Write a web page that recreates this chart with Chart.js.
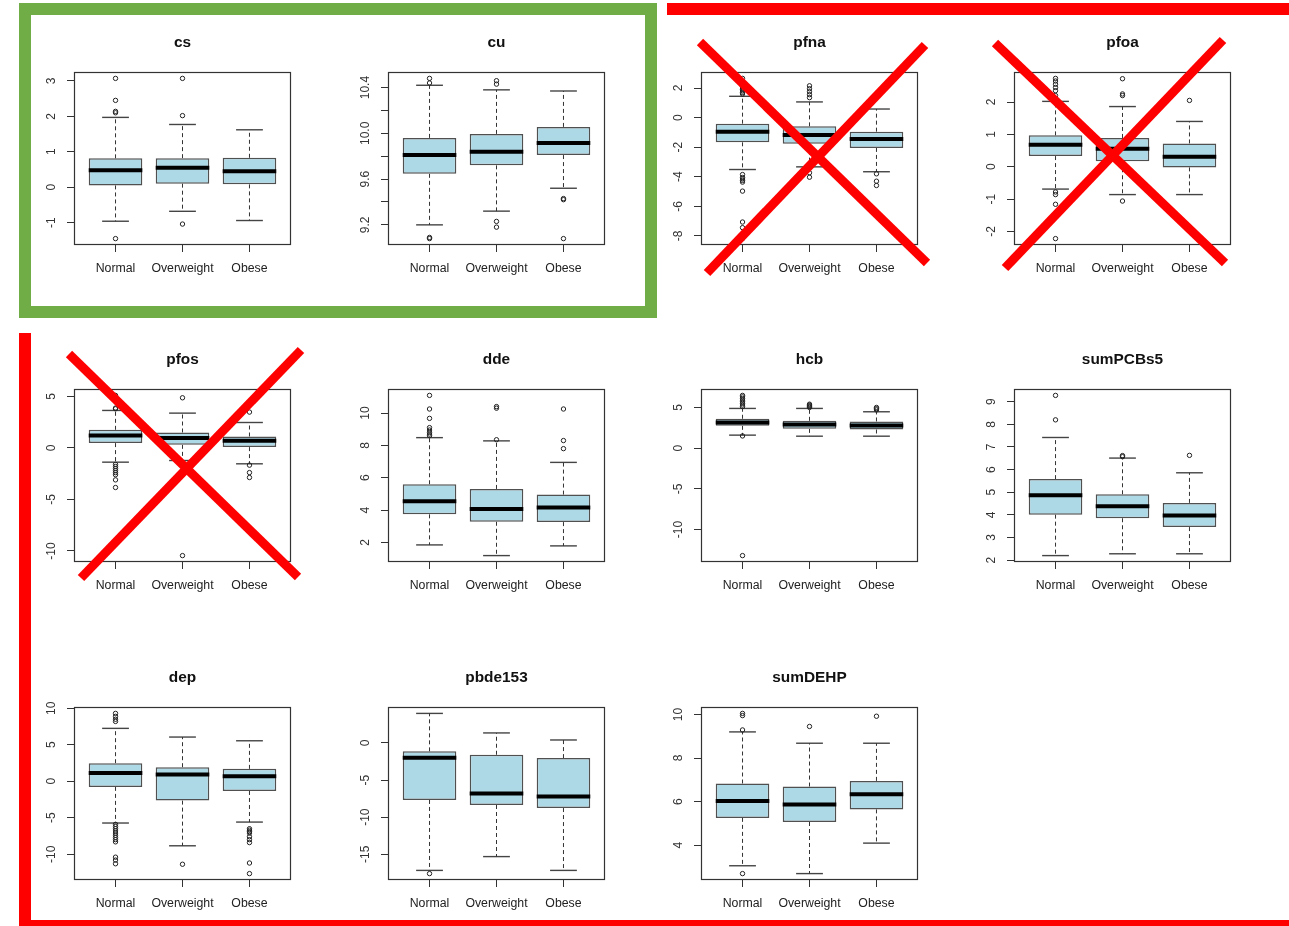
<!DOCTYPE html>
<html lang="en">
<head>
<meta charset="UTF-8">
<title>Exposure levels by BMI group</title>
<script src="https://cdn.jsdelivr.net/npm/chart.js@4.4.1/dist/chart.umd.min.js"></script>
<style>
    html, body { margin: 0; padding: 0; background: #fff; }
    #page { position: relative; width: 1289px; height: 926px; overflow: hidden; background: #fff; }
    .panel { position: absolute; }
    .bar { position: absolute; background: #ff0000; pointer-events: none; z-index: 10; }
    .greenFrame { position: absolute; box-sizing: border-box; border: 12px solid #70ad47; pointer-events: none; z-index: 10; }
    svg.cross { position: absolute; left: 0; top: 0; pointer-events: none; z-index: 11; }
</style>
</head>
<body>
<div id="page">
    <div class="greenFrame" style="left:19px; top:3px; width:638px; height:315px;"></div>
    <div class="bar" style="left:667px; top:3px; width:622px; height:12px;"></div>
    <div class="bar" style="left:19px; top:333px; width:12px; height:593px;"></div>
    <div class="bar" style="left:19px; top:920px; width:1270px; height:12px;"></div>
    <svg class="cross" width="1289" height="926">
        <g stroke="#ff0000" stroke-width="9" stroke-linecap="butt">
            <line x1="700" y1="42" x2="927" y2="263"/>
            <line x1="925" y1="45" x2="707" y2="273"/>
            <line x1="995" y1="43" x2="1225" y2="263"/>
            <line x1="1223" y1="40" x2="1005" y2="268"/>
            <line x1="69" y1="354" x2="298" y2="577"/>
            <line x1="301" y1="350" x2="81" y2="578"/>
        </g>
    </svg>
</div>

<script>
    const groups = ['Normal', 'Overweight', 'Obese'];

    // each box: [lower whisker, Q1, median, Q3, upper whisker]
    const csStats = [[-0.96, 0.05, 0.48, 0.815, 1.97], [-0.68, 0.10, 0.55, 0.82, 1.77], [-0.94, 0.08, 0.45, 0.83, 1.62]];
    const csOutliers = [[3.07, 2.45, 2.14, 2.10, -1.45], [3.07, 2.02, -1.04], []];
    const csTicks = [-1, 0, 1, 2, 3];
    const csTickLabels = ['-1', '0', '1', '2', '3'];

    const cuStats = [[9.20, 9.646, 9.81, 9.96, 10.42], [9.32, 9.72, 9.84, 9.995, 10.38], [9.52, 9.81, 9.915, 10.056, 10.37]];
    const cuOutliers = [[10.48, 10.44, 9.09, 9.08], [10.46, 10.43, 9.23, 9.18], [9.43, 9.42, 9.08]];
    const cuTicks = [9.2, 9.4, 9.6, 9.8, 10.0, 10.2, 10.4];
    const cuTickLabels = ['9.2', '', '9.6', '', '10.0', '', '10.4'];

    const pfnaStats = [[-3.51, -1.67, -0.95, -0.41, 1.44], [-3.33, -1.76, -1.17, -0.59, 1.06], [-3.66, -2.05, -1.44, -0.95, 0.58]];
    const pfnaOutliers = [
        [2.65, 2.45, 2.3, 2.1, 2.0, 1.9, 1.8, 1.7, 1.6, -3.85, -4.05, -4.15, -4.25, -4.36, -4.97, -7.06, -7.44, -8.18],
        [2.15, 1.95, 1.75, 1.55, 1.35, -3.73, -4.03],
        [-3.8, -4.3, -4.59]
    ];
    const pfnaTicks = [-8, -6, -4, -2, 0, 2];
    const pfnaTickLabels = ['-8', '-6', '-4', '-2', '0', '2'];

    const pfoaStats = [[-0.69, 0.33, 0.68, 0.97, 2.02], [-0.86, 0.17, 0.56, 0.89, 1.86], [-0.86, -0.02, 0.31, 0.72, 1.40]];
    const pfoaOutliers = [[2.73, 2.65, 2.55, 2.45, 2.35, 2.2, -0.78, -0.86, -1.16, -2.22], [2.72, 2.25, 2.2, -1.06], [2.05]];
    const pfoaTicks = [-2, -1, 0, 1, 2];
    const pfoaTickLabels = ['-2', '-1', '0', '1', '2'];

    const pfosStats = [[-1.38, 0.47, 1.21, 1.76, 3.64], [-1.22, 0.30, 0.96, 1.50, 3.38], [-1.54, 0.08, 0.69, 1.11, 2.47]];
    const pfosOutliers = [[5.1, 3.87, 3.8, -1.6, -1.8, -2.0, -2.2, -2.4, -2.6, -3.1, -3.84], [4.87, -10.45], [3.48, -1.67, -2.39, -2.87]];
    const pfosTicks = [-10, -5, 0, 5];
    const pfosTickLabels = ['-10', '-5', '0', '5'];

    const ddeStats = [[1.85, 3.74, 4.55, 5.60, 8.48], [1.19, 3.28, 4.07, 5.31, 8.28], [1.79, 3.26, 4.17, 4.96, 6.95]];
    const ddeOutliers = [[11.09, 10.25, 9.67, 9.1, 8.95, 8.8, 8.7, 8.6], [10.4, 10.3, 8.35], [10.25, 8.3, 7.8]];
    const ddeTicks = [2, 4, 6, 8, 10];
    const ddeTickLabels = ['2', '4', '6', '8', '10'];

    const hcbStats = [[1.60, 2.74, 3.15, 3.61, 4.88], [1.47, 2.37, 2.90, 3.36, 4.88], [1.47, 2.29, 2.78, 3.28, 4.47]];
    const hcbOutliers = [[6.48, 6.3, 6.1, 5.9, 5.7, 5.5, 5.3, 5.1, 1.5, -13.2], [5.4, 5.3, 5.2, 5.1, 5.0], [5.0, 4.85, 4.7]];
    const hcbTicks = [-10, -5, 0, 5];
    const hcbTickLabels = ['-10', '-5', '0', '5'];

    const pcbStats = [[2.20, 4.01, 4.87, 5.58, 7.42], [2.28, 3.85, 4.38, 4.91, 6.51], [2.28, 3.46, 3.97, 4.53, 5.86]];
    const pcbOutliers = [[9.28, 8.2], [6.62, 6.57], [6.63]];
    const pcbTicks = [2, 3, 4, 5, 6, 7, 8, 9];
    const pcbTickLabels = ['2', '3', '4', '5', '6', '7', '8', '9'];

    const depStats = [[-5.72, -0.77, 1.15, 2.48, 7.25], [-8.84, -2.65, 0.92, 1.93, 6.06], [-5.59, -1.33, 0.69, 1.70, 5.55]];
    const depOutliers = [
        [9.3, 8.9, 8.5, 8.2, -5.9, -6.2, -6.5, -6.8, -7.1, -7.4, -7.7, -8.0, -8.3, -10.4, -10.8, -11.3],
        [-11.37],
        [-6.5, -6.7, -6.9, -7.1, -7.6, -8.0, -8.4, -11.2, -12.65]
    ];
    const depTicks = [-10, -5, 0, 5, 10];
    const depTickLabels = ['-10', '-5', '0', '5', '10'];

    const pbdeStats = [[-17.17, -7.68, -1.99, -1.13, 3.98], [-15.31, -8.36, -6.82, -1.59, 1.35], [-17.17, -8.77, -7.23, -2.04, 0.40]];
    const pbdeOutliers = [[-17.6], [], []];
    const pbdeTicks = [-15, -10, -5, 0];
    const pbdeTickLabels = ['-15', '-10', '-5', '0'];

    const dehpStats = [[3.05, 5.25, 6.03, 6.83, 9.20], [2.69, 5.06, 5.87, 6.69, 8.68], [4.09, 5.64, 6.34, 6.95, 8.68]];
    const dehpOutliers = [[10.05, 9.95, 9.29, 2.69], [9.45], [9.92]];
    const dehpTicks = [4, 6, 8, 10];
    const dehpTickLabels = ['4', '6', '8', '10'];

    const panels = [
        { title: 'cs', stats: csStats, outliers: csOutliers, ticks: csTicks, labels: csTickLabels, row: 0, col: 0 },
        { title: 'cu', stats: cuStats, outliers: cuOutliers, ticks: cuTicks, labels: cuTickLabels, row: 0, col: 1 },
        { title: 'pfna', stats: pfnaStats, outliers: pfnaOutliers, ticks: pfnaTicks, labels: pfnaTickLabels, row: 0, col: 2 },
        { title: 'pfoa', stats: pfoaStats, outliers: pfoaOutliers, ticks: pfoaTicks, labels: pfoaTickLabels, row: 0, col: 3 },
        { title: 'pfos', stats: pfosStats, outliers: pfosOutliers, ticks: pfosTicks, labels: pfosTickLabels, row: 1, col: 0 },
        { title: 'dde', stats: ddeStats, outliers: ddeOutliers, ticks: ddeTicks, labels: ddeTickLabels, row: 1, col: 1 },
        { title: 'hcb', stats: hcbStats, outliers: hcbOutliers, ticks: hcbTicks, labels: hcbTickLabels, row: 1, col: 2 },
        { title: 'sumPCBs5', stats: pcbStats, outliers: pcbOutliers, ticks: pcbTicks, labels: pcbTickLabels, row: 1, col: 3 },
        { title: 'dep', stats: depStats, outliers: depOutliers, ticks: depTicks, labels: depTickLabels, row: 2, col: 0 },
        { title: 'pbde153', stats: pbdeStats, outliers: pbdeOutliers, ticks: pbdeTicks, labels: pbdeTickLabels, row: 2, col: 1 },
        { title: 'sumDEHP', stats: dehpStats, outliers: dehpOutliers, ticks: dehpTicks, labels: dehpTickLabels, row: 2, col: 2 }
    ];

    // grid geometry: left/top of each plotting region
    const colLeft = [74, 388, 701, 1014];
    const rowTop = [72, 389, 706.5];
    const PLOT_W = 217, PLOT_H = 173;
    const AXIS_W = 60, TITLE_H = 50, XAXIS_H = 40, RIGHT_PAD = 20;
    const FONT = '"Liberation Sans", Arial, sans-serif';
    const Y_FONT = 12, X_FONT = 12.3, TITLE_FONT = 15.4;
    const LINE_COLOR = '#333';

    const measure = document.createElement('canvas').getContext('2d');
    measure.font = Y_FONT + 'px ' + FONT;

    // R style range: data extent padded by 4% each side
    function rRange(values) {
        const lo = Math.min(...values), hi = Math.max(...values);
        const pad = (hi - lo) * 0.04;
        return [lo - pad, hi + pad];
    }

    function segment(x1, y1, x2, y2, extra) {
        return Object.assign({
            type: 'line',
            data: [{ x: x1, y: y1 }, { x: x2, y: y2 }],
            borderColor: LINE_COLOR,
            borderWidth: 1,
            pointRadius: 0,
            fill: false
        }, extra);
    }

    // plot frame, as drawn by box()
    const frameBox = {
        id: 'frameBox',
        afterDraw(chart) {
            const { ctx, chartArea } = chart;
            ctx.save();
            ctx.strokeStyle = LINE_COLOR;
            ctx.lineWidth = 1.2;
            ctx.strokeRect(Math.round(chartArea.left) + 0.5, Math.round(chartArea.top) + 0.5,
                Math.round(chartArea.width) - 1, Math.round(chartArea.height) - 1);
            ctx.restore();
        }
    };

    const page = document.getElementById('page');

    panels.forEach(p => {
        const div = document.createElement('div');
        div.className = 'panel';
        const w = AXIS_W + PLOT_W + RIGHT_PAD;
        const h = TITLE_H + PLOT_H + XAXIS_H;
        div.style.left = (colLeft[p.col] - AXIS_W) + 'px';
        div.style.top = (rowTop[p.row] - TITLE_H) + 'px';
        div.style.width = w + 'px';
        div.style.height = h + 'px';
        const canvas = document.createElement('canvas');
        canvas.width = w;
        canvas.height = h;
        div.appendChild(canvas);
        page.appendChild(div);

        const [yMin, yMax] = rRange(p.stats.flat().concat(p.outliers.flat()));
        const widest = Math.max(...p.labels.map(l => measure.measureText(l).width));

        const datasets = [];
        datasets.push({
            type: 'line',
            showLine: false,
            data: p.outliers.flatMap((vals, i) => vals.map(v => ({ x: i + 1, y: v }))),
            pointRadius: 2.2,
            pointBorderWidth: 1,
            pointBorderColor: '#222',
            pointBackgroundColor: 'rgba(255,255,255,0)',
            order: 0
        });
        p.stats.forEach((s, i) => {
            datasets.push(segment(i + 0.6, s[2], i + 1.4, s[2], { borderColor: '#000', borderWidth: 4, order: 1 }));
        });
        datasets.push({
            type: 'bar',
            data: p.stats.map((s, i) => ({ x: i + 1, y: [s[1], s[3]] })),
            backgroundColor: '#add8e6',
            borderColor: '#505050',
            borderWidth: 1.5,
            borderSkipped: false,
            barPercentage: 0.8,
            categoryPercentage: 1,
            order: 2
        });
        p.stats.forEach((s, i) => {
            const x = i + 1;
            datasets.push(segment(x, s[3], x, s[4], { borderDash: [4, 3], order: 3 }));
            datasets.push(segment(x, s[1], x, s[0], { borderDash: [4, 3], order: 3 }));
            datasets.push(segment(x - 0.2, s[4], x + 0.2, s[4], { borderColor: '#444', borderWidth: 1.4, order: 3 }));
            datasets.push(segment(x - 0.2, s[0], x + 0.2, s[0], { borderColor: '#444', borderWidth: 1.4, order: 3 }));
        });

        new Chart(canvas.getContext('2d'), {
            type: 'bar',
            data: { datasets },
            plugins: [frameBox],
            options: {
                responsive: false,
                animation: false,
                devicePixelRatio: 1,
                layout: { padding: { left: 0, right: RIGHT_PAD, top: 0, bottom: 0 } },
                scales: {
                    x: {
                        type: 'linear',
                        min: 0.38,
                        max: 3.62,
                        offset: false,
                        afterBuildTicks: scale => { scale.ticks = [1, 2, 3].map(v => ({ value: v })); },
                        afterFit: scale => { scale.height = XAXIS_H; },
                        border: { display: false },
                        grid: { drawOnChartArea: false, offset: false, tickLength: 7, tickColor: LINE_COLOR, tickWidth: 1 },
                        ticks: {
                            autoSkip: false,
                            maxRotation: 0,
                            padding: 9.5,
                            color: '#222',
                            font: { family: FONT, size: X_FONT, lineHeight: 1.2 },
                            callback: (v, i) => groups[i]
                        }
                    },
                    y: {
                        type: 'linear',
                        min: yMin,
                        max: yMax,
                        afterBuildTicks: scale => { scale.ticks = p.ticks.map(v => ({ value: v })); },
                        afterFit: scale => { scale.width = AXIS_W; },
                        border: { display: false },
                        grid: { drawOnChartArea: false, tickLength: 7, tickColor: LINE_COLOR, tickWidth: 1 },
                        ticks: {
                            autoSkip: false,
                            minRotation: 90,
                            maxRotation: 90,
                            crossAlign: 'center',
                            padding: Math.max(0, 15 - widest / 2),
                            color: '#333',
                            font: { family: FONT, size: Y_FONT, lineHeight: 1.2 },
                            callback: (v, i) => p.labels[i]
                        }
                    }
                },
                plugins: {
                    legend: { display: false },
                    tooltip: { enabled: false },
                    title: {
                        display: true,
                        fullSize: false,
                        text: p.title,
                        color: '#111',
                        font: { family: FONT, size: TITLE_FONT, weight: 'bold', lineHeight: 1.2 },
                        padding: { top: 11.5, bottom: TITLE_H - 11.5 - TITLE_FONT * 1.2 }
                    }
                }
            }
        });
    });
</script>
</body>
</html>
